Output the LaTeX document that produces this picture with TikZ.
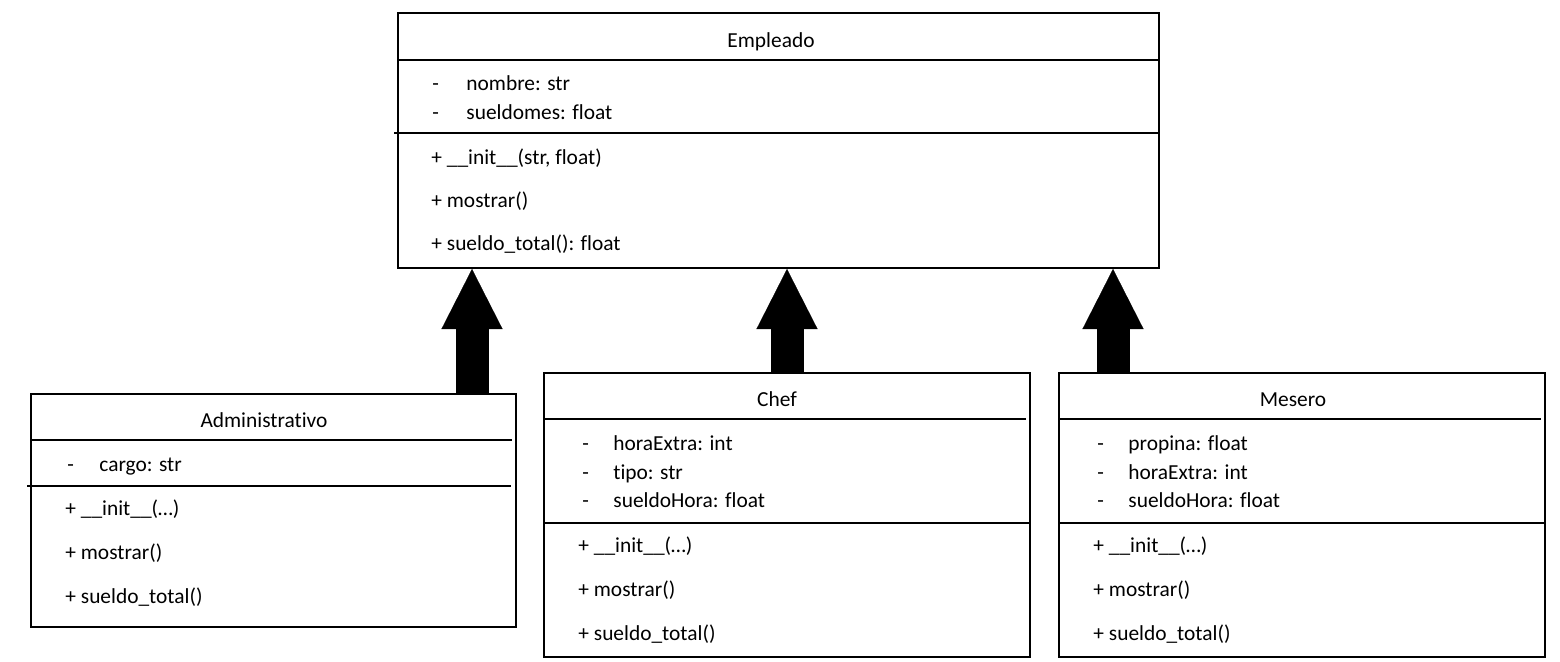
\documentclass[tikz,border=0pt]{standalone}
\usepackage{fontspec}
\setmainfont{Carlito}[Ligatures=NoCommon]
\usetikzlibrary{arrows.meta,positioning}

\begin{document}
\begin{tikzpicture}[x=0.5pt, y=-0.5pt,
  caja/.style={draw, line width=1pt, inner sep=0pt, anchor=north west},
  sep/.style={line width=0.6pt},
  txt/.style={anchor=west, inner sep=0pt, yshift=-1pt, text height=7.5pt, text depth=2pt, font=\fontsize{10.7}{12}\selectfont},
  titulo/.style={inner sep=0pt, yshift=-1pt, text height=7.5pt, text depth=2pt, font=\fontsize{10.7}{12}\selectfont},
  herencia/.style={line width=16.5pt, -{Triangle[length=30pt 0 0, width=30.5pt 0 0, line width=0.1pt 0 0]}}]
  \useasboundingbox (0,0) rectangle (1560,661);
  % clases
  \node[caja, minimum width=380.5pt, minimum height=127.5pt] (emp) at (397,12) {};
  \node[caja, minimum width=242.5pt, minimum height=116.5pt] (adm) at (30,393) {};
  \node[caja, minimum width=243pt, minimum height=142pt] (chef) at (543,372) {};
  \node[caja, minimum width=243pt, minimum height=142pt] (mes) at (1058,372) {};
  % separadores
  \draw[sep] (397,60) -- (1158,60);   \draw[sep] (394,133) -- (1158,133);
  \draw[sep] (30,440) -- (512,440);   \draw[sep] (27,486) -- (511,486);
  \draw[sep] (543,419) -- (1026,419); \draw[sep] (543,523) -- (1029,523);
  \draw[sep] (1058,419) -- (1541,419); \draw[sep] (1058,523) -- (1544,523);
  % titulos
  \node[titulo] (tEmp) at (771,40) {Empleado};
  \node[titulo] (tAdm) at (264,420) {Administrativo};
  \node[titulo] (tChef) at (777,399) {Chef};
  \node[titulo] (tMes) at (1293,399) {Mesero};
  % atributos
  \foreach \y/\t [count=\i] in {83/nombre: str, 112/sueldomes: float}{
    \node[txt] (dEmp\i) at (432,\y) {-};
    \node[txt] (aEmp\i) at (466,\y) {\t};
  }
  \node[txt] (dAdm1) at (67,464) {-};
  \node[txt] (aAdm1) at (99,464) {cargo: str};
  \foreach \y/\t [count=\i] in {443/horaExtra: int, 472/tipo: str, 500/sueldoHora: float}{
    \node[txt] (dChef\i) at (582,\y) {-};
    \node[txt] (aChef\i) at (613,\y) {\t};
  }
  \foreach \y/\t [count=\i] in {443/propina: float, 472/horaExtra: int, 500/sueldoHora: float}{
    \node[txt] (dMes\i) at (1097,\y) {-};
    \node[txt] (aMes\i) at (1128,\y) {\t};
  }
  % metodos
  \node[txt] (mEmp1) at (431,157) {+ \_\_init\_\_(str, float)};
  \node[txt] (mEmp2) at (431,200) {+ mostrar()};
  \node[txt] (mEmp3) at (431,243) {+ sueldo\_total(): float};
  \foreach \x/\y/\n in {65/508/Adm, 578/545/Chef, 1093/545/Mes}{
    \node[txt] (m\n1) at (\x,\y) {+ \_\_init\_\_(\dots)};
    \node[txt] (m\n2) at (\x,\y+44) {+ mostrar()};
    \node[txt] (m\n3) at (\x,\y+88) {+ sueldo\_total()};
  }
  % herencia
  \coordinate (h1) at (472,393);
  \coordinate (h2) at (787,372);
  \coordinate (h3) at (1113,372);
  \draw[herencia] (h1) -- (h1 |- emp.south);
  \draw[herencia] (h2) -- (h2 |- emp.south);
  \draw[herencia] (h3) -- (h3 |- emp.south);
\end{tikzpicture}
\end{document}
